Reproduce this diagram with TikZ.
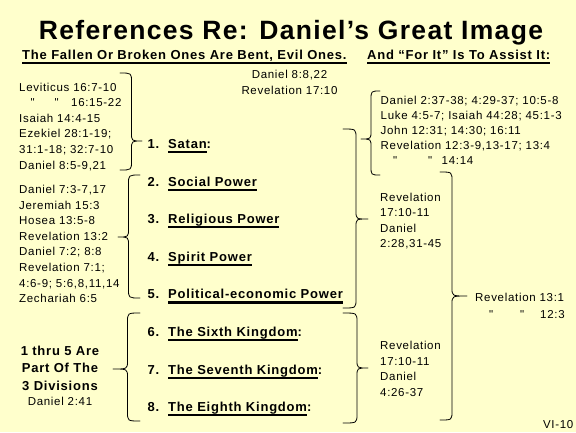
\documentclass[tikz,border=0pt]{standalone}
\usepackage{fontspec}
\setmainfont{Liberation Sans}
\newfontfamily\regf[LetterSpace=6]{Liberation Sans}
\newfontfamily\bldf[LetterSpace=6]{Liberation Sans}
\newfontfamily\ttlf[LetterSpace=5]{Liberation Sans}
\definecolor{bgc}{HTML}{FFFFCC}
\newcommand\ulx[1]{\setbox0=\hbox{#1}\rlap{\rule[-4.7pt]{\wd0}{2.2pt}}\box0}
\newcommand\ulsub[1]{\setbox0=\hbox{#1}\rlap{\rule[-5pt]{\wd0}{1.8pt}}\box0}
% hook x, body x, tip x, top y, tip y, bottom y
\newcommand\bracepath[6]{%
  \draw[bracestyle] (#1,#4) .. controls (#2,#4) .. (#2,#4+9) -- (#2,#5-8)
    .. controls (#2,#5) .. (#3,#5) .. controls (#2,#5) .. (#2,#5+8)
    -- (#2,#6-9) .. controls (#2,#6) .. (#1,#6);}
\tikzset{
  reg/.style={inner sep=0pt, font=\regf\fontsize{11.5}{15.6}\selectfont, align=left},
  bld/.style={inner sep=0pt, font=\bldf\bfseries\fontsize{13}{17.5}\selectfont},
  bracestyle/.style={line width=0.8pt, line join=round, line cap=round}
}
\begin{document}
\begin{tikzpicture}[x=1pt,y=-1pt]
\fill[bgc] (0,0) rectangle (576,432);
\useasboundingbox (0,0) rectangle (576,432);

% title and subtitle
\node[inner sep=0pt, font=\ttlf\bfseries\fontsize{26.5}{30}\selectfont, anchor=base] (title) at (291,39) {References Re: Daniel’s Great Image};
\node[bld, anchor=base west] (sub1) at (22,59) {\ulsub{The Fallen Or Broken Ones Are Bent, Evil Ones.}};
\node[bld, anchor=base west] (sub2) at (367,59) {\ulsub{And “For It” Is To Assist It:}};

% multi-line nodes are anchored at the baseline of their last line
\node[reg, align=center, anchor=base] (d88) at (289.5,94.5) {Daniel 8:8,22\\Revelation 17:10};

% items
\node[bld, anchor=base west] (i1) at (147.5,148.4) {\makebox[20.5pt][l]{1.}\ulx{Satan}:};
\node[bld, anchor=base west] (i2) at (147.5,186) {\makebox[20.5pt][l]{2.}\ulx{Social Power}};
\node[bld, anchor=base west] (i3) at (147.5,223.6) {\makebox[20.5pt][l]{3.}\ulx{Religious Power}};
\node[bld, anchor=base west] (i4) at (147.5,261.2) {\makebox[20.5pt][l]{4.}\ulx{Spirit Power}};
\node[bld, anchor=base west] (i5) at (147.5,298.8) {\makebox[20.5pt][l]{5.}\ulx{Political-economic Power}};
\node[bld, anchor=base west] (i6) at (147.5,336.4) {\makebox[20.5pt][l]{6.}\ulx{The Sixth Kingdom}:};
\node[bld, anchor=base west] (i7) at (147.5,374) {\makebox[20.5pt][l]{7.}\ulx{The Seventh Kingdom}:};
\node[bld, anchor=base west] (i8) at (147.5,411.6) {\makebox[20.5pt][l]{8.}\ulx{The Eighth Kingdom}:};

% left blocks
\node[reg, anchor=base west] (lev) at (19,169) {Leviticus 16:7-10\\
  \rlap{\hspace{11.5pt}"}\rlap{\hspace{35.5pt}"}\hspace{52pt}16:15-22\\
  Isaiah 14:4-15\\Ezekiel 28:1-19;\\31:1-18; 32:7-10\\Daniel 8:5-9,21};
\node[reg, anchor=base west] (dan73) at (19,302.7) {Daniel 7:3-7,17\\Jeremiah 15:3\\Hosea 13:5-8\\Revelation 13:2\\Daniel 7:2; 8:8\\Revelation 7:1;\\4:6-9; 5:6,8,11,14\\Zechariah 6:5};
\node[bld, align=center, anchor=base] (thru) at (60,390) {1 thru 5 Are\\Part Of The\\3 Divisions};
\node[reg, anchor=base] (dan241) at (60,405) {Daniel 2:41};

% right blocks
\node[reg, font=\regf\fontsize{11.5}{15}\selectfont, anchor=base west] (dan237) at (380.5,164.3) {Daniel 2:37-38; 4:29-37; 10:5-8\\Luke 4:5-7; Isaiah 44:28; 45:1-3\\John 12:31; 14:30; 16:11\\Revelation 12:3-9,13-17; 13:4\\
  \rlap{\hspace{12.5pt}"}\rlap{\hspace{47.5pt}"}\hspace{61pt}14:14};
\node[reg, font=\regf\fontsize{11.5}{15.5}\selectfont, anchor=base west] (rva) at (380,247.5) {Revelation\\17:10-11\\Daniel\\2:28,31-45};
\node[reg, font=\regf\fontsize{11.5}{15.5}\selectfont, anchor=base west] (rvb) at (380,396) {Revelation\\17:10-11\\Daniel\\4:26-37};
\node[reg, font=\regf\fontsize{11.5}{16.5}\selectfont, anchor=base west] (rv131) at (475,318) {Revelation 13:1\\
  \rlap{\hspace{14pt}"}\rlap{\hspace{45pt}"}\hspace{65pt}12:3};
\node[reg, anchor=base east] (vi) at (573.5,428) {VI-10};

% braces
\bracepath{120}{131.5}{142}{73}{141}{170}
\bracepath{140}{128.5}{118}{175}{237}{298}
\bracepath{140}{127.5}{113}{313}{369}{421}
\bracepath{343}{356}{368}{129}{219}{308}
\bracepath{380}{371}{361}{91}{139}{175}
\bracepath{440}{452}{467}{172}{296}{420}
\bracepath{343}{357}{368}{313}{368}{423}
\end{tikzpicture}
\end{document}
